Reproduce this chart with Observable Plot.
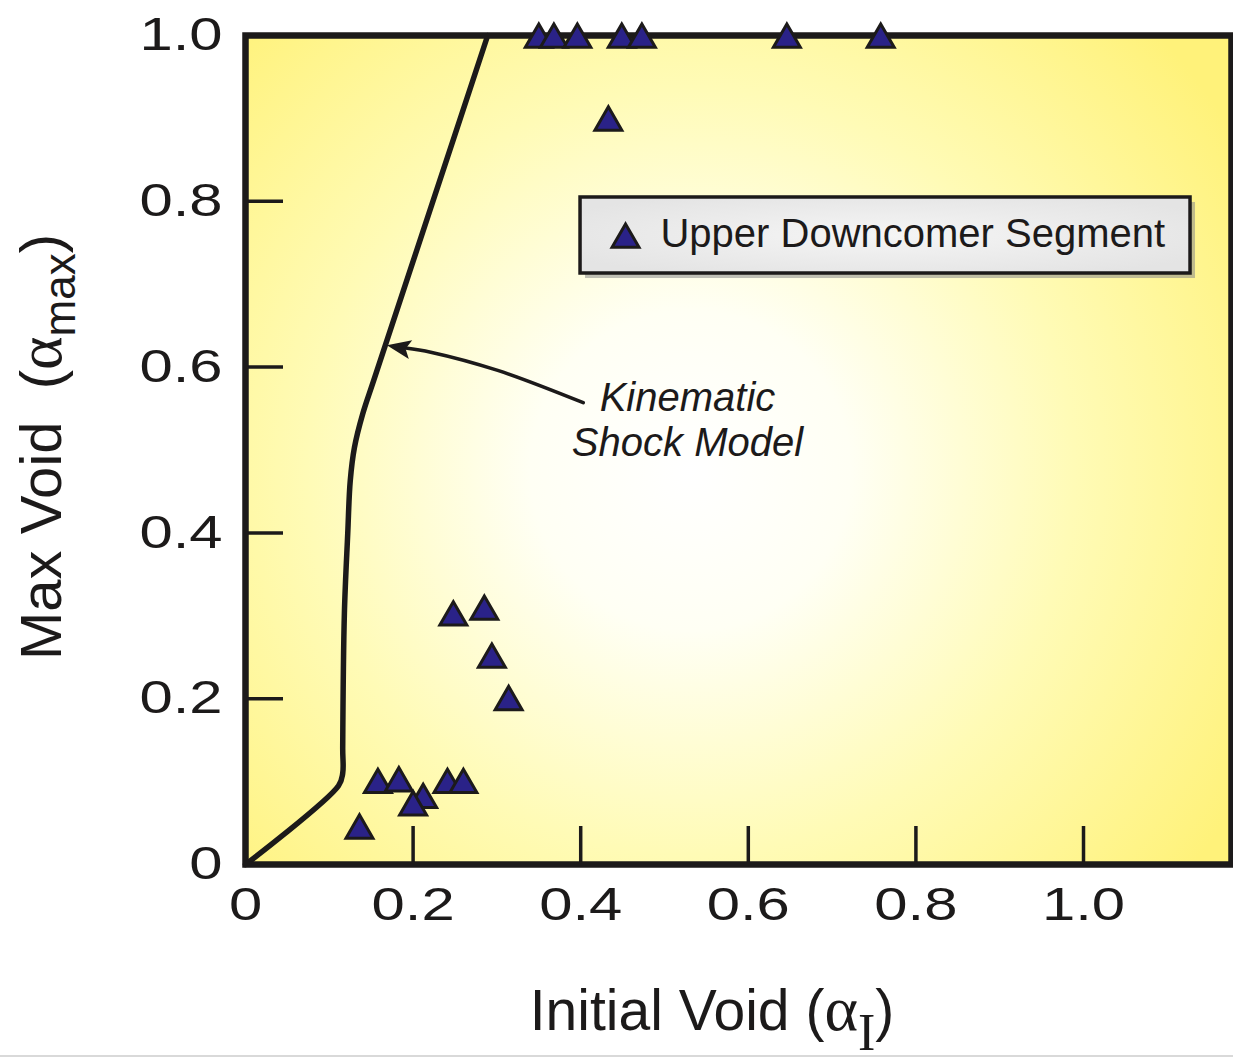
<!DOCTYPE html>
<html>
<head>
<meta charset="utf-8">
<script src="https://cdn.jsdelivr.net/npm/d3@7"></script>
<script src="https://cdn.jsdelivr.net/npm/@observablehq/plot@0.6"></script>
<style>
  html, body { margin: 0; padding: 0; background: #ffffff; }
  #chart svg { display: block; }
</style>
</head>
<body>
<div id="chart"></div>
<script>
// ---- Data: Upper Downcomer Segment (initial void vs max void) ----
const initialVoid = [0.350, 0.368, 0.396, 0.449, 0.473, 0.646, 0.758, 0.433,
                     0.248, 0.285, 0.294, 0.314,
                     0.158, 0.183, 0.212, 0.200, 0.241, 0.260, 0.136];
const maxVoid     = [1.0, 1.0, 1.0, 1.0, 1.0, 1.0, 1.0, 0.90,
                     0.303, 0.310, 0.252, 0.201,
                     0.101, 0.103, 0.083, 0.074, 0.101, 0.101, 0.046];

// ---- Kinematic shock model curve ----
const modelX = [0, 0.111, 0.116, 0.116, 0.118, 0.122, 0.125, 0.130, 0.140, 0.153, 0.224, 0.289];
const modelY = [0, 0.095, 0.110, 0.141, 0.303, 0.399, 0.463, 0.503, 0.544, 0.584, 0.801, 1.0];

// ---- Ticks ----
const xTicks = [0, 0.2, 0.4, 0.6, 0.8, 1.0];
const xTickLabels = ["0", "0.2", "0.4", "0.6", "0.8", "1.0"];
const yTicks = [0, 0.2, 0.4, 0.6, 0.8, 1.0];
const yTickLabels = ["0", "0.2", "0.4", "0.6", "0.8", "1.0"];

// ---- Annotation: arrow pointing to the model curve ----
const arrowX = [0.403, 0.301, 0.221, 0.191];
const arrowY = [0.557, 0.596, 0.618, 0.623];
const arrowHeadX = [0.1875];
const arrowHeadY = [0.6228];
const noteText = ["Kinematic\nShock Model"];
const noteX = [0.5274];
const noteY = [0.5855];

// ---- Legend ----
const legendLabel = ["Upper Downcomer Segment"];
const legendBoxX = [0.3998, 1.1277];
const legendBoxY = [0.7129, 0.8046];
const legendSymbolX = [0.4535];
const legendSymbolY = [0.7588];
const legendTextX = [0.4952];
const legendTextY = [0.760];

// ---- Build tables ----
const points = initialVoid.map((x, i) => ({x, y: maxVoid[i]}));
const model = modelX.map((x, i) => ({x, y: modelY[i]}));
const arrowPath = arrowX.map((x, i) => ({x, y: arrowY[i]}));
const arrowHeadPt = arrowHeadX.map((x, i) => ({x, y: arrowHeadY[i]}));
const note = noteText.map((t, i) => ({t, x: noteX[i], y: noteY[i]}));
const legendBox = [{x1: legendBoxX[0], x2: legendBoxX[1], y1: legendBoxY[0], y2: legendBoxY[1]}];
const legendSym = [{x: legendSymbolX[0], y: legendSymbolY[0]}];
const legendTxt = [{t: legendLabel[0], x: legendTextX[0], y: legendTextY[0]}];

const W = 1233, H = 1060;
const mL = 245, mR = 2, mT = 35, mB = 196;
const plotW = W - mL - mR, plotH = H - mT - mB;
const ink = "#1c1a1a";
const markerFill = "#2a2288";

// narrow filled arrowhead pointing left, slightly upward
const arrowHead = {
  draw(ctx) {
    const ux = -0.984, uy = -0.179, px = 0.179, py = -0.984;
    const L = 24, hw = 9.5;
    const tx = ux * L * 2 / 3, ty = uy * L * 2 / 3;
    const bx = -ux * L / 3, by = -uy * L / 3;
    ctx.moveTo(tx, ty);
    ctx.lineTo(bx + px * hw, by + py * hw);
    ctx.lineTo(bx + ux * 5, by + uy * 5);
    ctx.lineTo(bx - px * hw, by - py * hw);
    ctx.closePath();
  }
};

const svgNode = Plot.plot({
  width: W, height: H,
  marginLeft: mL, marginRight: mR, marginTop: mT, marginBottom: mB,
  style: {fontFamily: "'Liberation Sans', Arial, sans-serif", color: ink, background: "#ffffff", overflow: "visible"},
  x: {domain: [0, 1.1766], axis: null},
  y: {domain: [0, 1], axis: null},
  marks: [
    Plot.frame({fill: "url(#bgGrad)", stroke: "none"}),
    Plot.tickY(yTicks.slice(1, -1), {y: d => d, stroke: ink, strokeWidth: 3.5, insetRight: plotW - 38}),
    Plot.tickX(xTicks.slice(1), {x: d => d, stroke: ink, strokeWidth: 3.5, insetTop: plotH - 38}),
    Plot.line(model, {x: "x", y: "y", stroke: ink, strokeWidth: 5.5, curve: "catmull-rom", strokeLinejoin: "round", strokeLinecap: "round"}),
    Plot.line(arrowPath, {x: "x", y: "y", stroke: ink, strokeWidth: 3.5, curve: "catmull-rom"}),
    Plot.dot(arrowHeadPt, {x: "x", y: "y", symbol: arrowHead, fill: ink, stroke: "none", r: 8}),
    Plot.text(note, {x: "x", y: "y", text: "t", fontSize: 40, fontStyle: "italic", lineAnchor: "top", lineHeight: 1.125, textAnchor: "middle", fill: ink}),
    Plot.rect(legendBox, {x1: "x1", x2: "x2", y1: "y1", y2: "y2", fill: "#8a8a8a", fillOpacity: 0.55, dx: 5, dy: 5}),
    Plot.rect(legendBox, {x1: "x1", x2: "x2", y1: "y1", y2: "y2", fill: "url(#legendGrad)", stroke: ink, strokeWidth: 3.5}),
    Plot.dot(legendSym, {x: "x", y: "y", symbol: "triangle", r: 10, fill: markerFill, stroke: ink, strokeWidth: 3, dy: 4}),
    Plot.text(legendTxt, {x: "x", y: "y", text: "t", fontSize: 40, textAnchor: "start", fill: ink}),
    Plot.frame({stroke: ink, strokeWidth: 6.5, fill: "none"}),
    Plot.dot(points, {x: "x", y: "y", symbol: "triangle", r: 10, fill: markerFill, stroke: ink, strokeWidth: 3, dy: 4}),
    Plot.axisY(yTicks, {anchor: "left", tickSize: 0, tickPadding: 23, fontSize: 46, label: null,
      tickFormat: d => yTickLabels[yTicks.indexOf(d)]}),
    Plot.axisX(xTicks, {anchor: "bottom", tickSize: 0, tickPadding: 23, fontSize: 46, label: null,
      tickFormat: d => xTickLabels[xTicks.indexOf(d)]})
  ]
});

document.getElementById("chart").append(svgNode);
const svg = d3.select(svgNode);

// gradients
const defs = svg.insert("defs", ":first-child");
const bg = defs.append("radialGradient").attr("id", "bgGrad")
  .attr("gradientUnits", "userSpaceOnUse").attr("cx", 690).attr("cy", 470).attr("r", 640);
bg.append("stop").attr("offset", "0").attr("stop-color", "#ffffff");
bg.append("stop").attr("offset", "0.25").attr("stop-color", "#fffff4");
bg.append("stop").attr("offset", "0.6").attr("stop-color", "#fffbb6");
bg.append("stop").attr("offset", "1").attr("stop-color", "#fff27a");
const lg = defs.append("radialGradient").attr("id", "legendGrad").attr("cx", "0.5").attr("cy", "0.5").attr("r", "0.6");
lg.append("stop").attr("offset", "0").attr("stop-color", "#f5f5f5");
lg.append("stop").attr("offset", "1").attr("stop-color", "#e4e4e4");

// horizontally widened tick labels (as in the reference)
function stretch(sel, k) {
  sel.each(function () {
    const tr = this.getAttribute("transform");
    if (tr) {
      this.setAttribute("transform", tr + ` scale(${k},1)`);
    } else {
      const x = +this.getAttribute("x") || 0, y = +this.getAttribute("y") || 0;
      this.setAttribute("x", 0); this.setAttribute("y", 0);
      this.setAttribute("transform", `translate(${x},${y}) scale(${k},1)`);
    }
  });
}
stretch(svg.selectAll('g[aria-label="y-axis tick label"] text'), 1.3);
stretch(svg.selectAll('g[aria-label="x-axis tick label"] text'), 1.3);

// axis titles
const xt = svg.append("text")
  .attr("x", 712).attr("y", 1030)
  .attr("text-anchor", "middle")
  .attr("fill", ink)
  .style("font-family", "'Liberation Sans', Arial, sans-serif")
  .style("font-size", "57px");
xt.append("tspan").text("Initial Void (");
xt.append("tspan").style("font-family", "'Liberation Serif', 'Times New Roman', serif").style("font-size", "64px").text("α");
xt.append("tspan").attr("dy", 20).style("font-family", "'Liberation Serif', 'Times New Roman', serif").style("font-size", "52px").text("I");
xt.append("tspan").attr("dy", -20).text(")");

const yt = svg.append("text")
  .attr("transform", "translate(61,447) rotate(-90)")
  .attr("text-anchor", "middle")
  .attr("fill", ink)
  .style("font-family", "'Liberation Sans', Arial, sans-serif")
  .style("font-size", "58px");
yt.append("tspan").text("Max Void\u00a0\u00a0(");
yt.append("tspan").style("font-family", "'Liberation Serif', 'Times New Roman', serif").style("font-size", "64px").text("α");
yt.append("tspan").attr("dy", 14).style("font-size", "44px").text("max");
yt.append("tspan").attr("dy", -14).text(")");

// faint slide edge line at the bottom
svg.append("line").attr("x1", 0).attr("x2", W).attr("y1", 1056).attr("y2", 1056)
  .attr("stroke", "#d9d9d9").attr("stroke-width", 2);
</script>
</body>
</html>
